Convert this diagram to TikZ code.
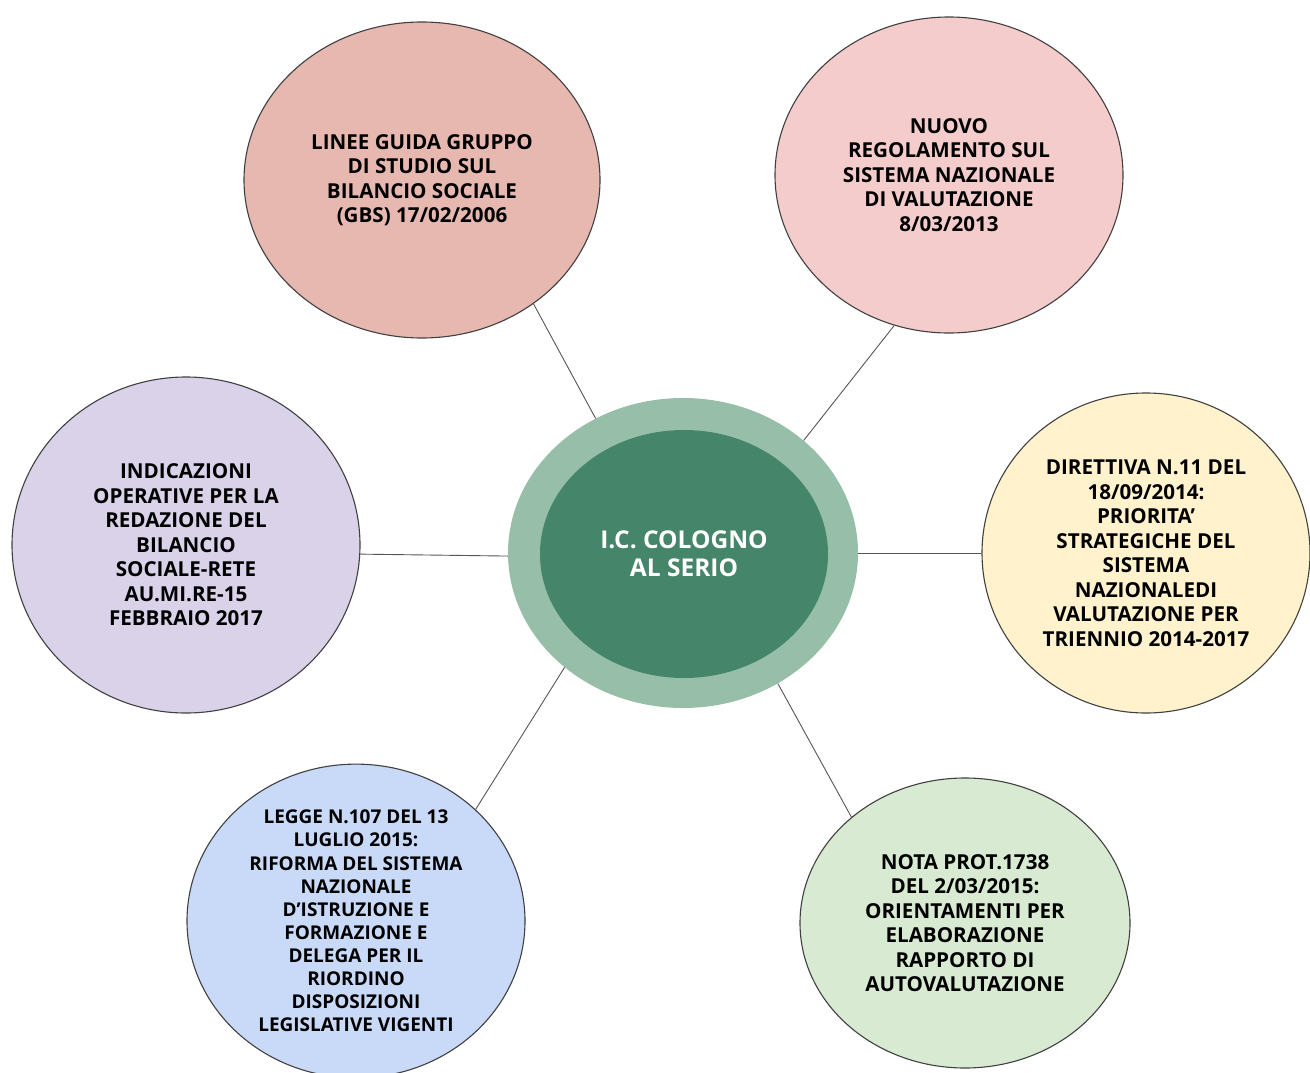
\documentclass[tikz,border=0pt]{standalone}
\usepackage{fontspec}
\setmainfont{Open Sans}
\usetikzlibrary{shapes.geometric}

\definecolor{guidafill}{HTML}{E6B8AF}
\definecolor{regolfill}{HTML}{F4CCCC}
\definecolor{indicfill}{HTML}{D9D2E9}
\definecolor{direttfill}{HTML}{FFF2CC}
\definecolor{leggefill}{HTML}{C9DAF8}
\definecolor{notafill}{HTML}{D9EAD3}
\definecolor{huboutfill}{HTML}{96BEA9}
\definecolor{hubinfill}{HTML}{45856A}
\definecolor{rim}{HTML}{404040}
\definecolor{wire}{HTML}{555555}

\begin{document}
\begin{tikzpicture}
		[
			x=1pt, y=-1pt,
			leaf/.style={ellipse, draw=rim, line width=1.1pt, inner sep=0pt, align=center,
				font=\fontsize{20.6}{24.5}\selectfont\bfseries},
			smallleaf/.style={leaf, font=\fontsize{19}{23.1}\selectfont\bfseries},
			hub/.style={ellipse, fill=huboutfill, inner sep=0pt},
			hubcore/.style={ellipse, fill=hubinfill, inner sep=0pt, align=center, text=white,
				font=\fontsize{24.5}{28}\selectfont\bfseries},
			link/.style={draw=wire, line width=0.9pt},
		]

		\useasboundingbox (0,0) rectangle (1310,1073);

		% Nodes
		\node[leaf, fill=guidafill, minimum width=356pt, minimum height=316pt] (guida) at (422,180)
			{LINEE GUIDA GRUPPO\\DI STUDIO SUL\\BILANCIO SOCIALE\\(GBS) 17/02/2006};
		\node[leaf, fill=regolfill, minimum width=348pt, minimum height=316pt] (regol) at (949,175)
			{NUOVO\\REGOLAMENTO SUL\\SISTEMA NAZIONALE\\DI VALUTAZIONE\\8/03/2013};
		\node[leaf, fill=indicfill, minimum width=348pt, minimum height=336pt] (indic) at (186,545)
			{INDICAZIONI\\OPERATIVE PER LA\\REDAZIONE DEL\\BILANCIO\\SOCIALE-RETE\\AU.MI.RE-15\\FEBBRAIO 2017};
		\node[leaf, fill=direttfill, minimum width=328pt, minimum height=320pt] (dirett) at (1146,553)
			{DIRETTIVA N.11 DEL\\18/09/2014:\\PRIORITA’\\STRATEGICHE DEL\\SISTEMA\\NAZIONALEDI\\VALUTAZIONE PER\\TRIENNIO 2014-2017};
		\node[smallleaf, fill=leggefill, minimum width=338pt, minimum height=302pt] (legge) at (356,921)
			{LEGGE N.107 DEL 13\\LUGLIO 2015:\\RIFORMA DEL SISTEMA\\NAZIONALE\\D’ISTRUZIONE E\\FORMAZIONE E\\DELEGA PER IL\\RIORDINO\\DISPOSIZIONI\\LEGISLATIVE VIGENTI};
		\node[leaf, fill=notafill, minimum width=330pt, minimum height=290pt] (nota) at (965,923)
			{NOTA PROT.1738\\DEL 2/03/2015:\\ORIENTAMENTI PER\\ELABORAZIONE\\RAPPORTO DI\\AUTOVALUTAZIONE};

		\node[hub, minimum width=350pt, minimum height=310pt] (hub) at (683,553) {};
		\node[hubcore, minimum width=288pt, minimum height=248pt] (core) at (684,554)
			{I.C. COLOGNO\\AL SERIO};

		% Edges
		\foreach \u/\v in
		{
			guida.-48/hub.123,
			regol.250/hub.43,
			indic.-3/hub.181,
			dirett.west/hub.east,
			legge.43/hub.224,
			nota.137/hub.-54}
			\draw[link] (\u) -- (\v);

		\end{tikzpicture}
\end{document}
